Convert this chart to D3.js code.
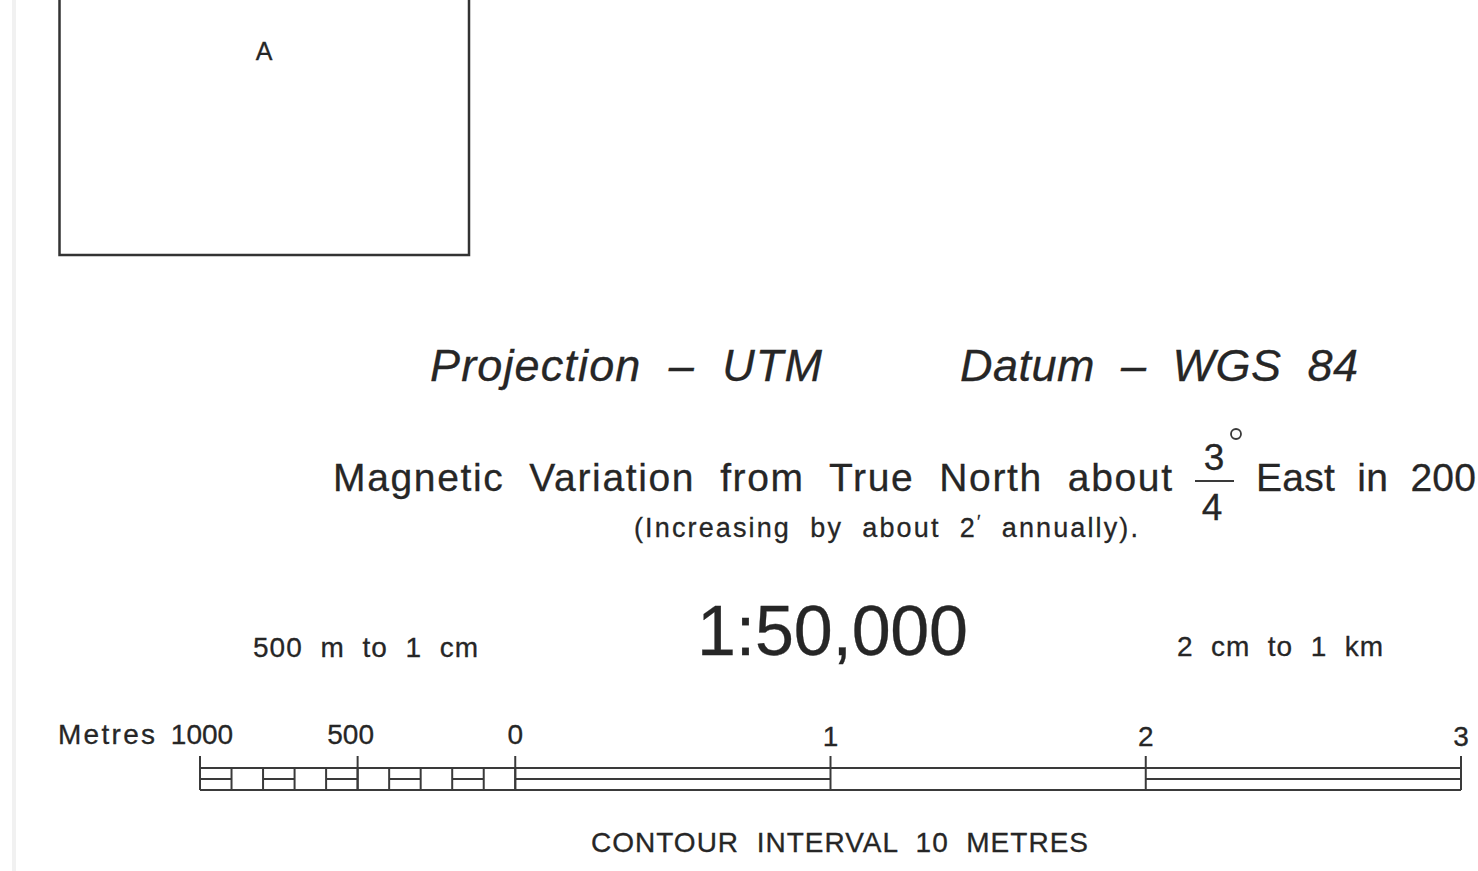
<!DOCTYPE html>
<html>
<head>
<meta charset="utf-8">
<script src="https://cdn.jsdelivr.net/npm/d3@7"></script>
<style>
  html, body { margin: 0; padding: 0; background: #fff; overflow: hidden; }
  svg { display: block; }
  text { font-family: "Liberation Sans", Arial, Helvetica, sans-serif; fill: #262626; stroke: #262626; stroke-width: 0.3px; }
</style>
</head>
<body>
<script>
// Scale bar values, in metres (negative = the subdivided extension left of 0)
const subTicks = [-1000, -900, -800, -700, -600, -500, -400, -300, -200, -100, 0];
const subFilled = [[-1000, -900], [-800, -700], [-600, -500], [-400, -300], [-200, -100]];
const majorTicks = [-1000, -500, 0, 1000, 2000, 3000];
const majorLabels = ['1000', '500', '0', '1', '2', '3'];
const kmFilled = [[0, 1000], [2000, 3000]];

// Marginal text (double spaces = the wide word gaps of the sheet)
const projectionText = 'Projection  \u2013  UTM';
const datumText = 'Datum  \u2013  WGS  84';
const magneticText = 'Magnetic  Variation  from  True  North  about';
const variationNum = '3';
const variationDen = '4';
const magneticTail = 'East  in  200';
const annualText = ['(Increasing  by  about  2', '\u2032', '  annually).'];
const scaleText = '1:50,000';
const leftRatio = '500  m  to  1  cm';
const rightRatio = '2  cm  to  1  km';
const contourText = 'CONTOUR  INTERVAL  10  METRES';

const W = 1478, H = 871;
const INK = '#3a3a3a';

const svg = d3.select('body')
              .append('svg')
                .attr('width', W)
                .attr('height', H);

//faint scan edge on the left
svg.append('rect')
     .attr('x', 12).attr('y', 0)
     .attr('width', 4).attr('height', H)
     .attr('fill', '#f1f1f1');

//Inset box (top cut off by the page)
svg.append('rect')
     .attr('x', 59.5).attr('y', -10)
     .attr('width', 409.5).attr('height', 265)
     .attr('fill', 'none')
     .attr('stroke', '#333')
     .attr('stroke-width', 2.5);

function label(txt, x, y, size, opts = {}) {
  const t = svg.append('text')
               .attr('x', x)
               .attr('y', y)
               .attr('font-size', size + 'px')
               .attr('text-anchor', opts.anchor || 'start')
               .style('white-space', 'pre')
               .text(txt);
  if (opts.italic) t.attr('font-style', 'italic');
  if (opts.len) t.attr('textLength', opts.len).attr('lengthAdjust', 'spacing');
  return t;
}

label('A', 264, 60, 25, {anchor: 'middle'});

label(projectionText, 430, 381, 45, {italic: true, len: 392});
label(datumText, 960, 381, 45, {italic: true, len: 398});

label(magneticText, 333, 491, 39, {len: 839});
//the 3/4 degree fraction
label(variationNum, 1214, 470, 37, {anchor: 'middle'});
label(variationDen, 1212, 520, 37, {anchor: 'middle'});
svg.append('line')
     .attr('x1', 1195).attr('x2', 1234)
     .attr('y1', 481).attr('y2', 481)
     .attr('stroke', INK).attr('stroke-width', 2);
svg.append('circle')
     .attr('cx', 1236).attr('cy', 434).attr('r', 5)
     .attr('fill', 'none').attr('stroke', INK).attr('stroke-width', 1.8);
label(magneticTail, 1256, 491, 39, {len: 220});

const annual = label('', 634, 537, 27);
annual.append('tspan').text(annualText[0]);
annual.append('tspan').attr('dy', -9).attr('font-size', '18px').text(annualText[1]);
annual.append('tspan').attr('dy', 9).text(annualText[2]);
annual.attr('textLength', 504).attr('lengthAdjust', 'spacing');

label(leftRatio, 253, 657, 28, {len: 225});
label(scaleText, 697, 655, 70, {len: 271});
label(rightRatio, 1177, 656, 28, {len: 206});

label('Metres', 58, 744, 28, {len: 97});

// Scale bar
const x = d3.scaleLinear().domain([-1000, 3000]).range([200, 1461]);
const TOP = 768, MID = 779, BOT = 790, TICK_TOP = 756;

const bar = svg.append('g')
               .attr('stroke', INK)
               .attr('stroke-width', 2)
               .attr('fill', 'none');

bar.selectAll('line.edge')
     .data([TOP, BOT])
     .enter()
     .append('line')
       .attr('class', 'edge')
       .attr('x1', x(-1000)).attr('x2', x(3000))
       .attr('y1', d => d).attr('y2', d => d);

bar.selectAll('line.fill')
     .data(subFilled.concat(kmFilled))
     .enter()
     .append('line')
       .attr('class', 'fill')
       .attr('x1', d => x(d[0])).attr('x2', d => x(d[1]))
       .attr('y1', MID).attr('y2', MID);

bar.selectAll('line.sub')
     .data(subTicks)
     .enter()
     .append('line')
       .attr('class', 'sub')
       .attr('x1', d => x(d)).attr('x2', d => x(d))
       .attr('y1', TOP).attr('y2', BOT);

bar.selectAll('line.major')
     .data(majorTicks)
     .enter()
     .append('line')
       .attr('class', 'major')
       .attr('x1', d => x(d)).attr('x2', d => x(d))
       .attr('y1', TICK_TOP).attr('y2', BOT);

svg.selectAll('text.major')
     .data(majorTicks)
     .enter()
     .append('text')
       .attr('class', 'major')
       .attr('text-anchor', 'middle')
       .attr('font-size', '28px')
       .attr('x', d => x(d) + (d === -500 ? -7 : d === -1000 ? 2 : 0))
       .attr('y', d => d > 0 ? 746 : 744)
       .text((d, i) => majorLabels[i]);

label(contourText, 591, 852, 28, {len: 497});
</script>
</body>
</html>
